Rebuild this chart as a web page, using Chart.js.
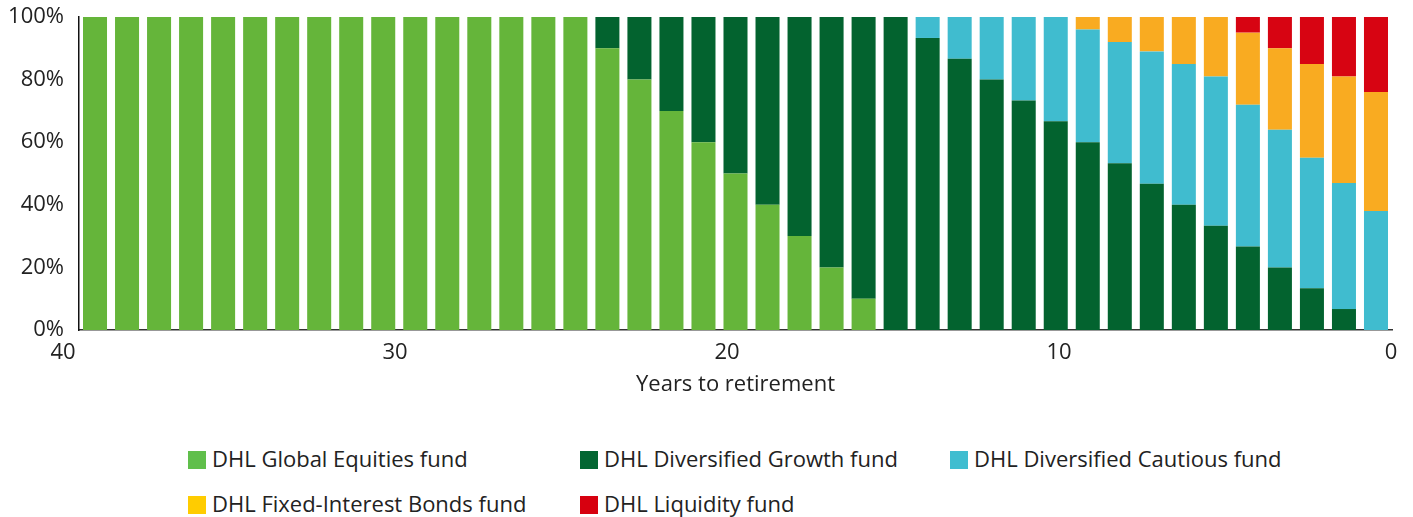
<!DOCTYPE html>
<html>
<head>
    <title>DHL lifestyle switching</title>
    <script src="https://cdn.jsdelivr.net/npm/chart.js"></script>
    <style>
        body { margin: 0; background: #fff; font-family: "Open Sans", sans-serif; color: #222; }
        #wrap { position: relative; width: 1413px; height: 410px; }
        #legend { position: absolute; left: 0; top: 410px; width: 1413px; height: 107px; }
        .item { position: absolute; font-size: 22px; line-height: 24px; white-space: nowrap; }
        .item span.box { display: inline-block; width: 18px; height: 18px; vertical-align: -2px; margin-right: 6px; }
    </style>
</head>
<body>
    <div id="wrap"><canvas id="glidepath"></canvas></div>
    <div id="legend"></div>

    <script>
        // Years to retirement, left (40) to right (0)
        const years = ['40','39','38','37','36','35','34','33','32','31','30','29','28','27','26','25','24','23','22','21',
                       '20','19','18','17','16','15','14','13','12','11','10','9','8','7','6','5','4','3','2','1','0'];
        const xTicks = [40, 30, 20, 10, 0];
        const yTicks = [0, 20, 40, 60, 80, 100];

        // % allocation per fund
        const globalEquities = [100,100,100,100,100,100,100,100,100,100,100,100,100,100,100,100,
                                90,80,70,60,50,40,30,20,10,
                                0,0,0,0,0,0,0,0,0,0,0,0,0,0,0,0];
        const diversifiedGrowth = [0,0,0,0,0,0,0,0,0,0,0,0,0,0,0,0,
                                   10,20,30,40,50,60,70,80,90,
                                   100,93.3,86.7,80,73.3,66.7,60,53.3,46.7,40,33.3,26.7,20,13.3,6.7,0];
        const diversifiedCautious = [0,0,0,0,0,0,0,0,0,0,0,0,0,0,0,0,0,0,0,0,0,0,0,0,0,0,
                                     6.7,13.3,20,26.7,33.3,36,38.7,42.3,45,47.7,45.3,44,41.7,40.3,38];
        const fixedInterest = [0,0,0,0,0,0,0,0,0,0,0,0,0,0,0,0,0,0,0,0,0,0,0,0,0,0,0,0,0,0,0,
                               4,8,11,15,19,23,26,30,34,38];
        const liquidity = [0,0,0,0,0,0,0,0,0,0,0,0,0,0,0,0,0,0,0,0,0,0,0,0,0,0,0,0,0,0,0,0,0,0,0,0,
                           5,10,15,19,24];

        const fundNames = ['DHL Global Equities fund', 'DHL Diversified Growth fund', 'DHL Diversified Cautious fund',
                           'DHL Fixed-Interest Bonds fund', 'DHL Liquidity fund'];
        const barColors = ['#65b53a', '#03632f', '#40bccf', '#f9ab21', '#d70412'];
        const legendColors = ['#60bf4b', '#036632', '#40bdd0', '#ffcc00', '#d7000f'];
        const series = [globalEquities, diversifiedGrowth, diversifiedCautious, fixedInterest, liquidity];

        const tickFont = { family: '"Open Sans", sans-serif', size: 22 };

        new Chart(document.getElementById('glidepath'), {
            type: 'bar',
            data: {
                labels: years,
                datasets: series.map((d, i) => ({
                    label: fundNames[i],
                    data: d,
                    backgroundColor: barColors[i],
                    barPercentage: 0.75,
                    categoryPercentage: 1,
                    xAxisID: 'x'
                }))
            },
            options: {
                responsive: true,
                maintainAspectRatio: false,
                animation: false,
                layout: { padding: { top: 17, right: 21, left: 0, bottom: 0 } },
                plugins: { legend: { display: false }, tooltip: { enabled: false } },
                scales: {
                    x: { type: 'category', stacked: true, display: false, offset: true },
                    // tick labels only; 40 sits a little left of the axis start like the original
                    x2: {
                        type: 'linear',
                        position: 'bottom',
                        reverse: true,
                        offset: false,
                        min: -0.03,
                        max: 39.52,
                        afterBuildTicks: (scale) => { scale.ticks = xTicks.map(v => ({ value: v })); },
                        afterFit: (scale) => { scale.height = 80; },
                        grid: { display: false, drawTicks: false, offset: false },
                        border: { display: true, color: '#333', width: 1.5 },
                        ticks: { color: '#222', font: tickFont, padding: 10, maxRotation: 0 },
                        title: {
                            display: true,
                            text: 'Years to retirement',
                            color: '#222',
                            font: { family: '"Open Sans", sans-serif', size: 22 },
                            padding: { top: 0, bottom: 12 }
                        }
                    },
                    y: {
                        stacked: true,
                        min: 0,
                        max: 100,
                        afterBuildTicks: (scale) => { scale.ticks = yTicks.map(v => ({ value: v })); },
                        afterFit: (scale) => {
                            scale.width = 79;
                            scale.paddingTop = 0;
                            scale.paddingBottom = 0;
                        },
                        grid: { display: false, drawTicks: false },
                        border: { display: true, color: '#111', width: 1.5 },
                        ticks: { color: '#222', font: tickFont, padding: 15, callback: v => v + '%' }
                    }
                }
            }
        });

        // legend laid out as a grid like the original
        const legendPos = [[188, 36], [580, 36], [950, 36], [188, 81], [580, 81]];
        const legend = document.getElementById('legend');
        fundNames.forEach((name, i) => {
            const el = document.createElement('div');
            el.className = 'item';
            el.style.left = legendPos[i][0] + 'px';
            el.style.top = legendPos[i][1] + 'px';
            el.innerHTML = '<span class="box" style="background:' + legendColors[i] + '"></span>' + name;
            legend.appendChild(el);
        });
    </script>
</body>
</html>
